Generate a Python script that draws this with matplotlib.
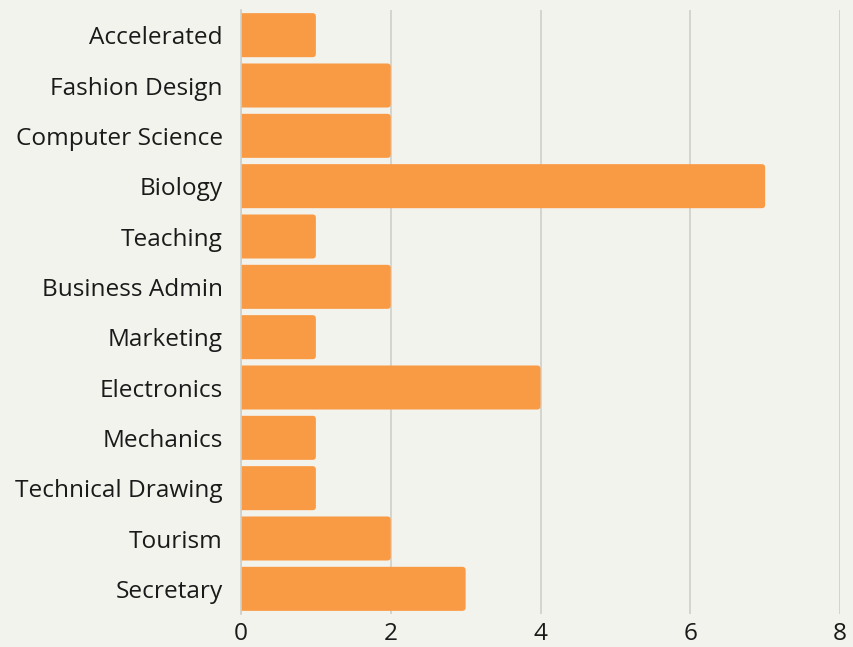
import matplotlib.pyplot as plt
from matplotlib.patches import FancyBboxPatch

plt.rcParams['font.family'] = ['Open Sans', 'DejaVu Sans']

programs = ['Accelerated', 'Fashion Design', 'Computer Science', 'Biology', 'Teaching',
            'Business Admin', 'Marketing', 'Electronics', 'Mechanics',
            'Technical Drawing', 'Tourism', 'Secretary']
counts = [1, 2, 2, 7, 1, 2, 1, 4, 1, 1, 2, 3]
x_ticks = [0, 2, 4, 6, 8]

bg = '#f3f3ee'
bar_color = '#f99b45'
fig = plt.figure(figsize=(8.54, 6.47), dpi=100, facecolor=bg)
ax = fig.add_axes([241 / 854, 1 - 614 / 647, (840 - 241) / 854, 604 / 647])
ax.set_facecolor(bg)

pos = list(range(len(programs)))
bars = ax.barh(pos, counts, height=0.875, color=bar_color, linewidth=0, zorder=2)

# swap the plain rectangles for ones with slightly rounded corners
for b in bars:
    x0, y0, w, h = b.get_x(), b.get_y(), b.get_width(), b.get_height()
    b.set_visible(False)
    p = FancyBboxPatch((x0 - 0.1, y0), w + 0.1, h,
                       boxstyle='round,pad=0,rounding_size=0.045',
                       mutation_aspect=1.49, facecolor=bar_color,
                       linewidth=0, zorder=2)
    ax.add_patch(p)

ax.set_ylim(len(programs) - 0.5, -0.5)
ax.set_xlim(0, 8)
ax.set_yticks(pos)
ax.set_yticklabels(programs, fontsize=17.6, color='#1a1a1a')
ax.set_xticks(x_ticks)
ax.set_xticklabels([str(t) for t in x_ticks], fontsize=17.6, color='#1a1a1a')
ax.tick_params(axis='y', length=0, pad=13)
ax.tick_params(axis='x', length=0, pad=6)
ax.grid(axis='x', color='#cfcfca', linewidth=1.2, zorder=1)
for s in ['top', 'right', 'bottom']:
    ax.spines[s].set_visible(False)
ax.spines['left'].set_color('#cfcfca')
ax.spines['left'].set_linewidth(1.2)
ax.spines['left'].set_zorder(3)

fig.savefig('out.png', dpi=100, facecolor=bg)
